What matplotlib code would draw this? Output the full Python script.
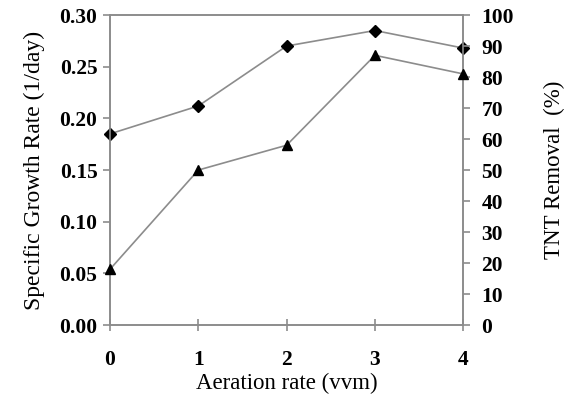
import numpy as np
import matplotlib.pyplot as plt

plt.rcParams['font.family'] = ['Liberation Serif', 'DejaVu Serif']

############ data ############
aeration = [0, 1, 2, 3, 4]
growth_rate = [0.185, 0.212, 0.270, 0.285, 0.268]   # 1/day, diamonds
tnt_removal = [18, 50, 58, 87, 81]                   # %, triangles

############ plot ############
fig = plt.figure(figsize=(5.67, 3.95), dpi=100)
ax = fig.add_axes([0.194, 0.177, 0.623, 0.785])
ax2 = ax.twinx()

gray = '#8c8c8c'
ax.plot(aeration, growth_rate, color=gray, lw=1.2, marker='D', ms=6,
        mfc='black', mec='black', zorder=3, clip_on=False)
ax2.plot(aeration, tnt_removal, color=gray, lw=1.2, marker='^', ms=7,
         mfc='black', mec='black', zorder=3, clip_on=False)

ax.set_xlim(0, 4)
ax.set_ylim(0, 0.30)
ax2.set_ylim(0, 100)
ax.set_xticks(aeration)
ax.set_yticks(np.arange(0, 0.31, 0.05))
ax.set_yticklabels(['%.2f' % v for v in np.arange(0, 0.31, 0.05)])
ax2.set_yticks(np.arange(0, 101, 10))

for a in (ax, ax2):
    for s in a.spines.values():
        s.set_color(gray)
        s.set_linewidth(1.2)
    a.tick_params(colors=gray, width=1.2, length=5, labelsize=15.5, labelcolor='black')
    for lab in a.get_yticklabels() + a.get_xticklabels():
        lab.set_fontweight('bold')
ax.tick_params(axis='x', direction='inout', length=8, pad=14)
ax.tick_params(axis='y', pad=4)
ax2.tick_params(axis='y', pad=8)

ax.set_xlabel('Aeration rate (vvm)', fontsize=16.5, labelpad=2)
ax.set_ylabel('Specific Growth Rate (1/day)', fontsize=17, labelpad=10)
ax2.set_ylabel('TNT Removal  (%)', fontsize=16.5, labelpad=22)

plt.savefig('out.png')
